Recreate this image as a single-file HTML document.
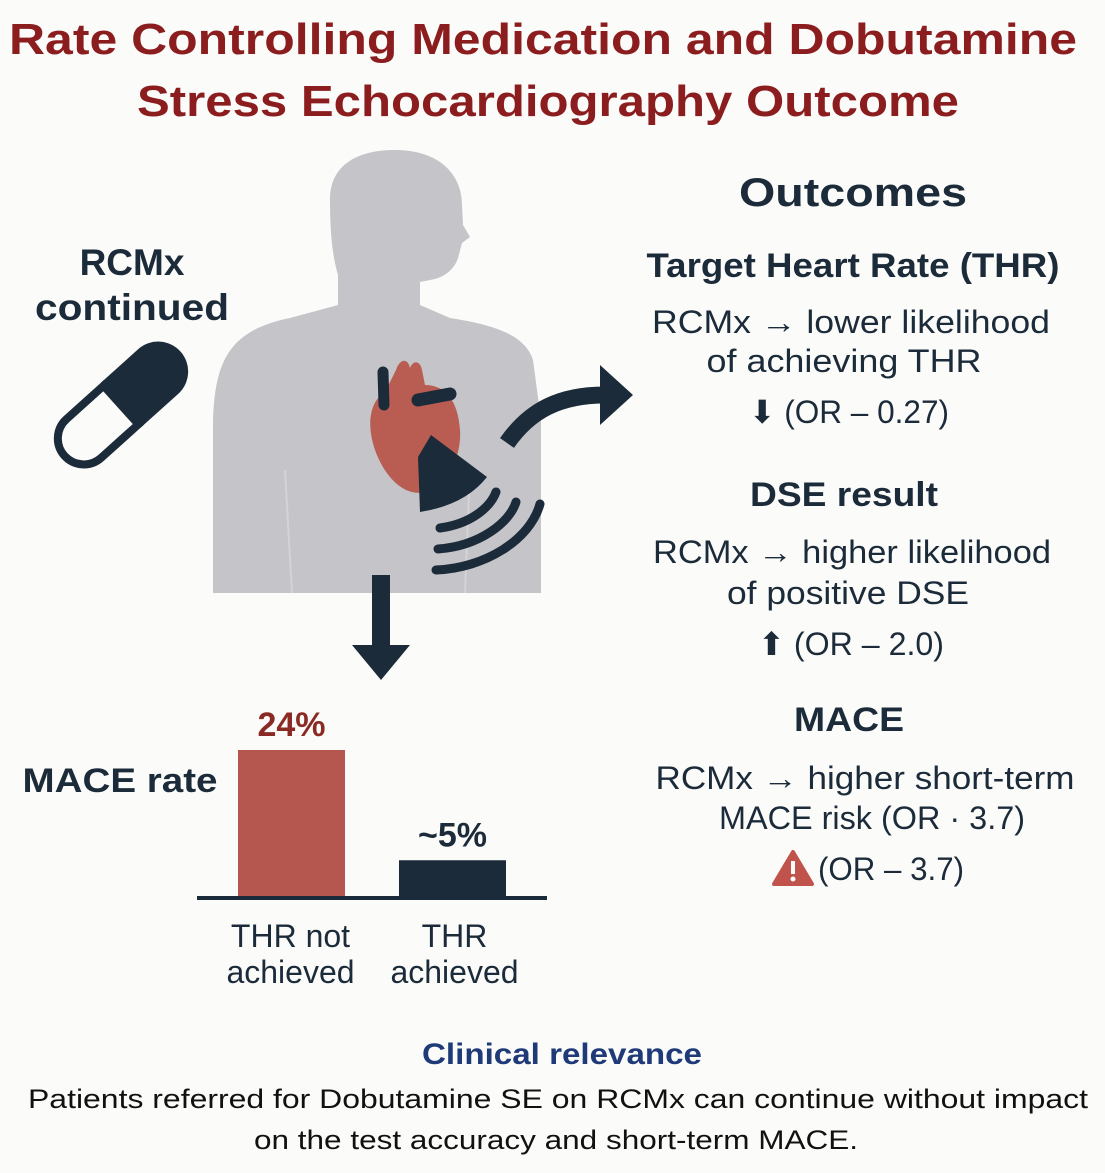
<!DOCTYPE html>
<html><head><meta charset="utf-8"><style>
html,body{margin:0;padding:0;background:#fbfbf9;}
svg{display:block;font-family:"Liberation Sans",sans-serif;}
</style></head><body>
<svg id="root" width="1105" height="1173" viewBox="0 0 1105 1173">
<rect width="1105" height="1173" fill="#fbfbf9"/>
<g fill="#8b1d1f" font-weight="bold" font-size="44" text-anchor="middle">
<text x="543" y="54" textLength="1068" lengthAdjust="spacingAndGlyphs">Rate Controlling Medication and Dobutamine</text>
<text x="548" y="116" textLength="822" lengthAdjust="spacingAndGlyphs">Stress Echocardiography Outcome</text>
</g>
<g>
<path fill="#c5c5c9" d="M330,200 C330,160 365,150 395,150 C440,150 462,175 462,205 L463,225 L470,237 L462,243 L458,258 C455,268 445,278 430,280 L420,282 L420,305 L450,318 C495,325 525,335 533,360 L541,420 L541,593 L213,593 L213,420 C215,360 230,330 290,318 L338,305 L338,275 C332,255 330,230 330,200 Z"/>
<g stroke="#d4d4d7" stroke-width="2" fill="none">
<path d="M285,470 L292,593"/>
<path d="M470,470 L465,593"/>
</g>
<path fill="#b95d52" d="M396,370 C400,358 408,358 410,368 C413,360 420,360 422,370 L425,385 C445,385 458,400 460,430 C462,460 445,485 425,492 C405,497 385,478 375,450 C365,420 372,400 385,392 Z"/>
<path fill="none" stroke="#1c2b3a" stroke-width="11" stroke-linecap="round" d="M383,372 L384,405"/>
<path fill="none" stroke="#1c2b3a" stroke-width="13" stroke-linecap="round" d="M418,400 L450,394"/>
<path fill="#1c2b3a" d="M418,457 L431,435 L487,477 Q465,505 420,512 Z"/>
<g fill="none" stroke="#1c2b3a" stroke-width="9" stroke-linecap="round">
<path d="M440,528 C470,524 490,508 496,492"/>
<path d="M438,549 C480,546 510,522 516,502"/>
<path d="M436,570 C485,568 530,540 540,504"/>
</g>
<path fill="none" stroke="#1c2b3a" stroke-width="17" d="M507,443 C530,410 560,395 605,395"/>
<path fill="#1c2b3a" d="M600,365 L633,395 L600,425 Z"/>
<rect x="372" y="575" width="18" height="72" fill="#1c2b3a"/>
<path fill="#1c2b3a" d="M352,645 L410,645 L381,680 Z"/>
</g>
<g fill="#1c2b3a" font-weight="bold" font-size="37" text-anchor="middle">
<text x="132" y="275">RCMx</text>
<text x="132" y="320" textLength="194" lengthAdjust="spacingAndGlyphs">continued</text>
</g>
<g transform="translate(121,405) rotate(-42)">
<path d="M0,-26 L-50,-26 A26,26 0 0 0 -50,26 L0,26 Z" fill="#fbfbf9" stroke="#1c2b3a" stroke-width="8"/>
<path d="M0,-30 L50,-30 A30,30 0 0 1 50,30 L0,30 Z" fill="#1c2b3a"/>
</g>
<g id="chart"></g>
<text x="120" y="792" fill="#1c2b3a" font-weight="bold" font-size="34" text-anchor="middle" textLength="195" lengthAdjust="spacingAndGlyphs">MACE rate</text>
<g fill="#1c2b3a" text-anchor="middle">
<text x="853" y="206" font-size="40" font-weight="bold" textLength="228" lengthAdjust="spacingAndGlyphs">Outcomes</text>
<text x="853" y="277" font-size="34" font-weight="bold" textLength="413" lengthAdjust="spacingAndGlyphs">Target Heart Rate (THR)</text>
<text x="851" y="333" font-size="32" textLength="398" lengthAdjust="spacingAndGlyphs">RCMx → lower likelihood</text>
<text x="844" y="372" font-size="32" textLength="275" lengthAdjust="spacingAndGlyphs">of achieving THR</text>
<text x="849" y="423" font-size="32" textLength="200" lengthAdjust="spacingAndGlyphs">⬇ (OR – 0.27)</text>
<text x="844" y="506" font-size="34" font-weight="bold" textLength="188" lengthAdjust="spacingAndGlyphs">DSE result</text>
<text x="852" y="563" font-size="32" textLength="398" lengthAdjust="spacingAndGlyphs">RCMx → higher likelihood</text>
<text x="848" y="604" font-size="32" textLength="242" lengthAdjust="spacingAndGlyphs">of positive DSE</text>
<text x="851" y="655" font-size="32" textLength="186" lengthAdjust="spacingAndGlyphs">⬆ (OR – 2.0)</text>
<text x="849" y="731" font-size="34" font-weight="bold" textLength="110" lengthAdjust="spacingAndGlyphs">MACE</text>
<text x="865" y="789" font-size="32" textLength="419" lengthAdjust="spacingAndGlyphs">RCMx → higher short-term</text>
<text x="872" y="829" font-size="32" textLength="306" lengthAdjust="spacingAndGlyphs">MACE risk (OR · 3.7)</text>
<text x="891" y="880" font-size="32" textLength="146" lengthAdjust="spacingAndGlyphs">(OR – 3.7)</text>
</g>
<g>
<path d="M793,852 L812,884 L774,884 Z" fill="#c0544d" stroke="#c0544d" stroke-width="4" stroke-linejoin="round"/>
<rect x="791" y="861" width="4" height="13" fill="#fbfbf9"/>
<circle cx="793" cy="879" r="2.5" fill="#fbfbf9"/>
</g>
<text x="562" y="1064" fill="#1f3a78" font-size="30" font-weight="bold" text-anchor="middle" textLength="280" lengthAdjust="spacingAndGlyphs">Clinical relevance</text>
<text x="558" y="1108" fill="#111" font-size="27" text-anchor="middle" textLength="1060" lengthAdjust="spacingAndGlyphs">Patients referred for Dobutamine SE on RCMx can continue without impact</text>
<text x="556" y="1149" fill="#111" font-size="27" text-anchor="middle" textLength="604" lengthAdjust="spacingAndGlyphs">on the test accuracy and short-term MACE.</text>
</svg>
<script>
const categories1 = ["THR not", "THR"];
const categories2 = ["achieved", "achieved"];
const maceValues = [24, 6];
const valueLabels = ["24%", "~5%"];
(function(){
  const NS = "http://www.w3.org/2000/svg";
  const g = document.getElementById("chart");
  const baseY = 897, pxPerUnit = 147/24;
  const y = v => baseY - v * pxPerUnit;
  const x = i => 238 + i * 161;
  const barW = 107;
  const fills = ["#b5574f", "#1c2b3a"];
  const labelFills = ["#8b2a24", "#1c2b3a"];
  maceValues.forEach((v, i) => {
    const r = document.createElementNS(NS, "rect");
    r.setAttribute("x", x(i)); r.setAttribute("y", y(v));
    r.setAttribute("width", barW); r.setAttribute("height", baseY - y(v));
    r.setAttribute("fill", fills[i]);
    
    
    g.appendChild(r);
    const t = document.createElementNS(NS, "text");
    t.setAttribute("x", x(i) + barW/2); t.setAttribute("y", y(v) - 14);
    t.setAttribute("text-anchor", "middle"); t.setAttribute("font-size", "34");
    t.setAttribute("font-weight", "bold"); t.setAttribute("fill", labelFills[i]);
    t.textContent = valueLabels[i];
    
    
    g.appendChild(t);
    [categories1[i], categories2[i]].forEach((c, j) => {
      const ct = document.createElementNS(NS, "text");
      ct.setAttribute("x", x(i) + barW/2 + (i === 0 ? -1 : 2));
      ct.setAttribute("y", 947 + j * 36);
      ct.setAttribute("text-anchor", "middle"); ct.setAttribute("font-size", "32");
      ct.setAttribute("fill", "#1c2b3a");
      ct.textContent = c;
      
      
      g.appendChild(ct);
    });
  });
  const ax = document.createElementNS(NS, "rect");
  ax.setAttribute("x", 197); ax.setAttribute("y", baseY - 1);
  ax.setAttribute("width", 350); ax.setAttribute("height", 4);
  ax.setAttribute("fill", "#1c2b3a");
  
  
  g.appendChild(ax);
})();
</script>
</body></html>
